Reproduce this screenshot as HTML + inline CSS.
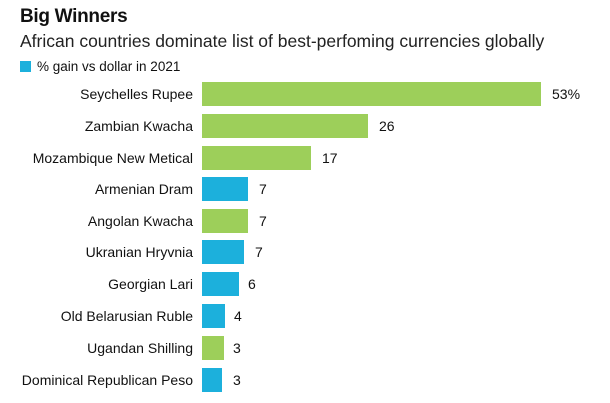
<!DOCTYPE html><html><head><style>
body{margin:0;width:610px;height:403px;background:#fff;font-family:"Liberation Sans",sans-serif;color:#111;position:relative;overflow:hidden}
.t{position:absolute;left:20px;top:6px;font-size:19px;font-weight:bold;letter-spacing:-0.3px}
.s{position:absolute;left:20px;top:31px;font-size:17.5px;color:#222}
.l{position:absolute;left:20px;top:59px;font-size:13.5px}
.l i{display:inline-block;width:11px;height:11px;background:#1cb0dc;margin-right:6px;vertical-align:-1px}
.r{position:absolute;left:0;height:24px;width:610px}
.n{position:absolute;right:417px;top:4px;font-size:14px;white-space:nowrap}
.b{position:absolute;left:202px;top:0;height:24px}
.v{position:absolute;top:4px;font-size:14px}
</style></head><body>
<div class="t">Big Winners</div>
<div class="s">African countries dominate list of best-perfoming currencies globally</div>
<div class="l"><i></i>% gain vs dollar in 2021</div>
<div class="r" style="top:82px"><span class="n">Seychelles Rupee</span><div class="b" style="width:339px;background:#9dcf5a"></div><span class="v" style="left:552px">53%</span></div>
<div class="r" style="top:114px"><span class="n">Zambian Kwacha</span><div class="b" style="width:166px;background:#9dcf5a"></div><span class="v" style="left:379px">26</span></div>
<div class="r" style="top:146px"><span class="n">Mozambique New Metical</span><div class="b" style="width:109px;background:#9dcf5a"></div><span class="v" style="left:322px">17</span></div>
<div class="r" style="top:177px"><span class="n">Armenian Dram</span><div class="b" style="width:46px;background:#1cb0dc"></div><span class="v" style="left:259px">7</span></div>
<div class="r" style="top:209px"><span class="n">Angolan Kwacha</span><div class="b" style="width:46px;background:#9dcf5a"></div><span class="v" style="left:259px">7</span></div>
<div class="r" style="top:240px"><span class="n">Ukranian Hryvnia</span><div class="b" style="width:42px;background:#1cb0dc"></div><span class="v" style="left:255px">7</span></div>
<div class="r" style="top:272px"><span class="n">Georgian Lari</span><div class="b" style="width:37px;background:#1cb0dc"></div><span class="v" style="left:248px">6</span></div>
<div class="r" style="top:304px"><span class="n">Old Belarusian Ruble</span><div class="b" style="width:23px;background:#1cb0dc"></div><span class="v" style="left:234px">4</span></div>
<div class="r" style="top:336px"><span class="n">Ugandan Shilling</span><div class="b" style="width:22px;background:#9dcf5a"></div><span class="v" style="left:233px">3</span></div>
<div class="r" style="top:368px"><span class="n">Dominical Republican Peso</span><div class="b" style="width:20px;background:#1cb0dc"></div><span class="v" style="left:233px">3</span></div>
</body></html>
